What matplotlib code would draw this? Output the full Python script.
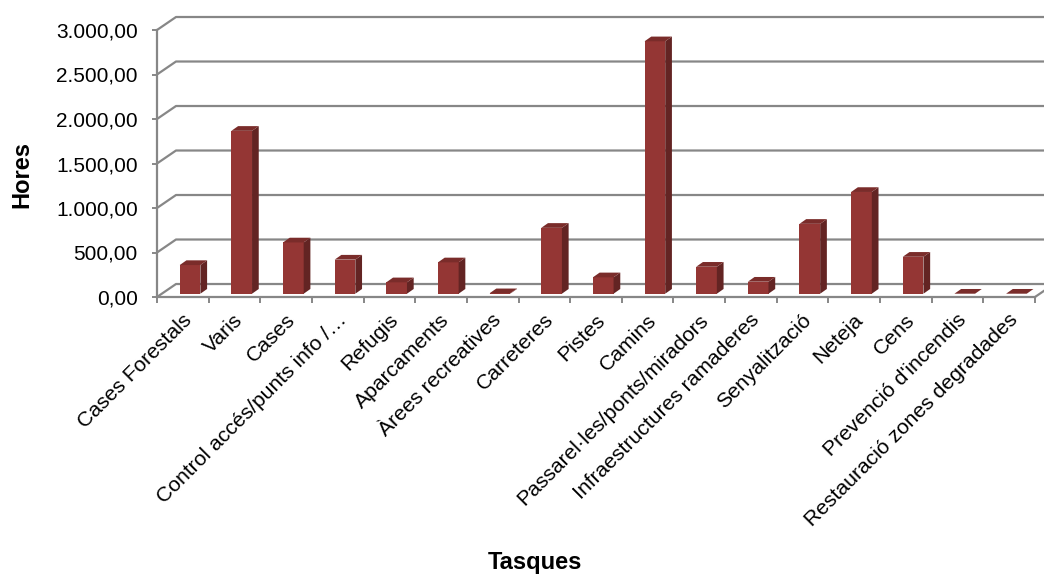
import matplotlib
matplotlib.use("Agg")
import matplotlib.pyplot as plt
import matplotlib.transforms as mtransforms

plt.rcParams['font.family'] = ['Liberation Sans', 'DejaVu Sans']

categories = ["Cases Forestals", "Varis", "Cases", "Control accés/punts info /…",
              "Refugis", "Aparcaments", "Àrees recreatives", "Carreteres", "Pistes",
              "Camins", "Passarel·les/ponts/miradors", "Infraestructures ramaderes",
              "Senyalització", "Neteja", "Cens", "Prevenció d'incendis",
              "Restauració zones degradades"]
hours = [322, 1830, 576, 383, 128, 352, 5, 740, 184, 2836, 303, 135, 785, 1143, 415, 0, 0]
y_ticks = [0, 500, 1000, 1500, 2000, 2500, 3000]
y_ticklabels = ["0,00", "500,00", "1.000,00", "1.500,00", "2.000,00", "2.500,00", "3.000,00"]

GRID = '#878787'
FRONT = '#943634'
SIDE = '#632423'
TOP = '#7a2c2a'

W, H = 1044, 577
fig = plt.figure(figsize=(W / 100, H / 100), dpi=100)
ax = fig.add_axes([157 / W, 1 - 297 / H, 878 / W, 267 / H])
n = len(categories)
ax.set_xlim(-0.5, n - 0.5)
ax.set_ylim(0, 3000)

# pseudo-3D depth (in data units)
BACK_DX, BACK_DY = 0.368, 146
BAR_OFF, BAR_W, BAR_B0 = -0.06, 0.40, 37
BAR_DX, BAR_DY = 0.13, 53

# back wall gridlines + side wall diagonals
for v in y_ticks:
    ax.plot([-0.5, -0.5 + BACK_DX, n + 2], [v, v + BACK_DY, v + BACK_DY],
            color=GRID, lw=1.6, clip_on=False, zorder=1, solid_capstyle='butt')
# right floor edge
ax.plot([n - 0.5, n - 0.5 + BACK_DX], [0, BACK_DY], color=GRID, lw=1.6,
        clip_on=False, zorder=1)

xs = list(range(n))
lefts = [x + BAR_OFF for x in xs]
# front faces
ax.bar(lefts, hours, width=BAR_W, bottom=BAR_B0, align='edge', color=FRONT,
       edgecolor='none', zorder=3)
for l, h in zip(lefts, hours):
    top = BAR_B0 + h
    r = l + BAR_W
    # side face
    ax.fill([r, r + BAR_DX, r + BAR_DX, r],
            [BAR_B0, BAR_B0 + BAR_DY, top + BAR_DY, top],
            color=SIDE, lw=0, zorder=3, clip_on=False)
    # top face
    ax.fill([l, r, r + BAR_DX, l + BAR_DX],
            [top, top, top + BAR_DY, top + BAR_DY],
            color=TOP, lw=0, zorder=3, clip_on=False)

for s in ['top', 'right']:
    ax.spines[s].set_visible(False)
for s in ['left', 'bottom']:
    ax.spines[s].set_color(GRID)
    ax.spines[s].set_linewidth(1.6)
    ax.spines[s].set_zorder(2)

ax.set_yticks(y_ticks)
ax.set_yticklabels(y_ticklabels, fontsize=15)
ax.tick_params(axis='y', length=3.8, width=1.4, color=GRID, pad=10)

ax.set_xticks(xs)
ax.set_xticklabels([])
ax.tick_params(axis='x', which='major', length=0)
ax.set_xticks([x - 0.5 for x in range(n + 1)], minor=True)
ax.tick_params(axis='x', which='minor', length=4.5, width=1.4, color=GRID, direction='out')

trans = mtransforms.blended_transform_factory(ax.transData, ax.transAxes)
for x, c in zip(xs, categories):
    ax.text(x - 0.02, -0.05, c, transform=trans, rotation=45, rotation_mode='anchor',
            ha='right', va='top', fontsize=15.2)

fig.text(22 / W, 1 - 175 / H, "Hores", rotation=90, ha='center', va='center',
         fontsize=17, fontweight='bold')
fig.text(535 / W, 1 - 562 / H, "Tasques", ha='center', va='center',
         fontsize=17, fontweight='bold')

fig.savefig("out.png", dpi=100, facecolor='white')
